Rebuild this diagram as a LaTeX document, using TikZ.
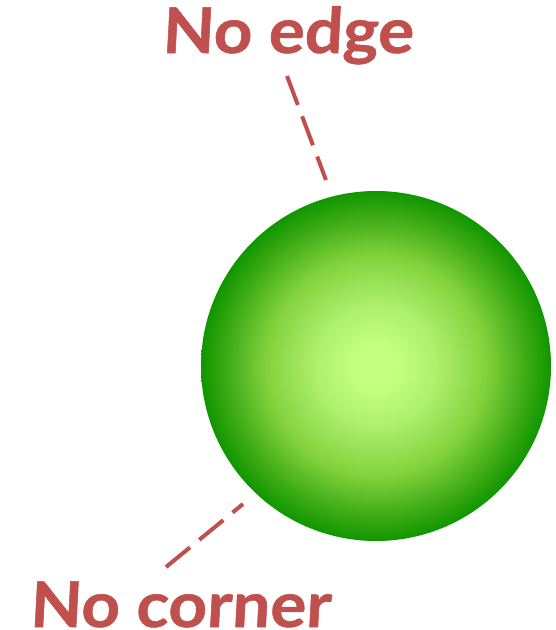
\documentclass[tikz,border=0pt]{standalone}
\usepackage{fontspec}
\newfontfamily\lblfont[FakeSlant=0.05,FakeBold=0.8]{Lato Bold}
\definecolor{labelred}{RGB}{192,80,77}
\definecolor{ballA}{RGB}{196,255,130}
\definecolor{ballB}{RGB}{175,240,110}
\definecolor{ballC}{RGB}{130,210,60}
\definecolor{ballD}{RGB}{60,170,20}
\definecolor{ballE}{RGB}{16,150,0}
\pgfdeclareradialshading{greenball}{\pgfpoint{0bp}{0bp}}{color(0bp)=(ballA); color(3bp)=(ballA); color(8.5bp)=(ballB); color(15.7bp)=(ballC); color(21.5bp)=(ballD); color(25bp)=(ballE); color(50bp)=(ballE)}
\tikzset{
  lbl/.style={text=labelred, font=\lblfont\fontsize{63}{70}\selectfont, anchor=base, inner sep=0pt},
  pointer/.style={draw=labelred, line width=4pt, dash pattern=on 31pt off 12pt},
}
\begin{document}
\begin{tikzpicture}[x=1pt,y=-1pt]
\useasboundingbox (0,0) rectangle (556,630);
\path[shading=greenball] (376,366) circle[radius=175];
\node[lbl] (edge) at (287.5,53) {\scalebox{1.07}[1]{No edge}};
\node[lbl] (corner) at (180,627) {\scalebox{1.07}[1]{No corner}};
\coordinate (e1) at (287,76);
\coordinate (e2) at (326,180);
\coordinate (c1) at (243,504);
\coordinate (c2) at (166,567);
\draw[pointer] (e1) -- (e2);
\draw[pointer] (c2) -- (c1);
\end{tikzpicture}
\end{document}
